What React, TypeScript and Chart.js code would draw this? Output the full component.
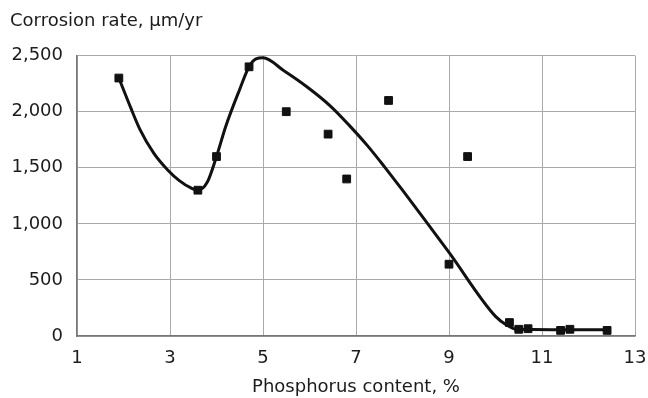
import React, { useEffect, useRef } from "react";
import { Chart, registerables } from "chart.js";

Chart.register(...registerables);

const pointsX = [1.9, 3.6, 4.0, 4.7, 5.5, 6.4, 6.8, 7.7, 9.0, 9.4, 10.3, 10.5, 10.7, 11.4, 11.6, 12.4];
const pointsY = [2300, 1300, 1600, 2400, 2000, 1800, 1400, 2100, 640, 1600, 120, 60, 65, 50, 60, 50];

const curveX = [1.9, 2.15, 2.35, 2.65, 2.95, 3.2, 3.45, 3.6, 3.8, 4.0, 4.2, 4.5, 4.7, 4.85, 5.0, 5.45, 5.95, 6.45, 6.85, 7.25, 7.6, 8.0, 8.5, 9.0, 10.0, 10.25, 10.45, 12.4];
const curveY = [2300, 2040, 1845, 1630, 1480, 1385, 1320, 1300, 1370, 1600, 1870, 2200, 2400, 2470, 2480, 2365, 2220, 2050, 1880, 1695, 1515, 1300, 1025, 745, 175, 95, 60, 55];

const yTitle = "Corrosion rate, μm/yr";
const xTitle = "Phosphorus content, %";

const FONT = "'DejaVu Sans', sans-serif";
const TEXT = "#1c1c1c";

export default function App() {
  const ref = useRef<HTMLCanvasElement | null>(null);
  useEffect(() => {
    document.body.style.margin = "0";
    const ctx = ref.current!;
    const chart = new Chart(ctx, {
      type: "scatter",
      data: {
        datasets: [
          {
            label: "Measured",
            data: pointsX.map((x, i) => ({ x, y: pointsY[i] })),
            pointStyle: "rect",
            pointRadius: 5.5,
            backgroundColor: "#111",
            borderColor: "#111",
            borderWidth: 1,
            showLine: false,
          },
          {
            label: "Trend",
            data: curveX.map((x, i) => ({ x, y: curveY[i] })),
            showLine: true,
            pointRadius: 0,
            borderColor: "#111",
            borderWidth: 3,
            cubicInterpolationMode: "monotone",
            fill: false,
          },
        ],
      },
      options: {
        animation: false,
        responsive: true,
        maintainAspectRatio: false,
        layout: { padding: { left: 10, right: 0, top: 0, bottom: 0 } },
        plugins: {
          legend: { display: false },
          tooltip: { enabled: false },
          title: {
            display: true,
            text: yTitle,
            align: "start",
            color: TEXT,
            font: { family: FONT, size: 18, weight: "normal" },
            padding: { top: 11, bottom: 23 },
          },
        },
        scales: {
          x: {
            type: "linear",
            min: 1,
            max: 13,
            ticks: {
              stepSize: 2,
              color: TEXT,
              font: { family: FONT, size: 18 },
              padding: 12,
              maxRotation: 0,
            },
            grid: { color: "#aaa", lineWidth: 1, drawTicks: false },
            border: { color: "#777", width: 1.5 },
            title: {
              display: true,
              text: xTitle,
              color: TEXT,
              font: { family: FONT, size: 18 },
              padding: { top: 0, bottom: 0 },
            },
            afterFit: (s: any) => {
              s.height = 62;
              s.paddingRight = 13;
            },
          },
          y: {
            type: "linear",
            min: 0,
            max: 2500,
            ticks: {
              stepSize: 500,
              color: TEXT,
              font: { family: FONT, size: 18 },
              padding: 14,
              callback: (v: any) => Number(v).toLocaleString("en-US"),
            },
            grid: { color: "#aaa", lineWidth: 1, drawTicks: false },
            border: { color: "#777", width: 1.5 },
            afterFit: (s: any) => {
              s.width = 67;
            },
          },
        },
      },
    });
    return () => chart.destroy();
  }, []);
  return (
    <div style={{ width: 648, height: 398, position: "relative", background: "#fff" }}>
      <canvas ref={ref} />
    </div>
  );
}
